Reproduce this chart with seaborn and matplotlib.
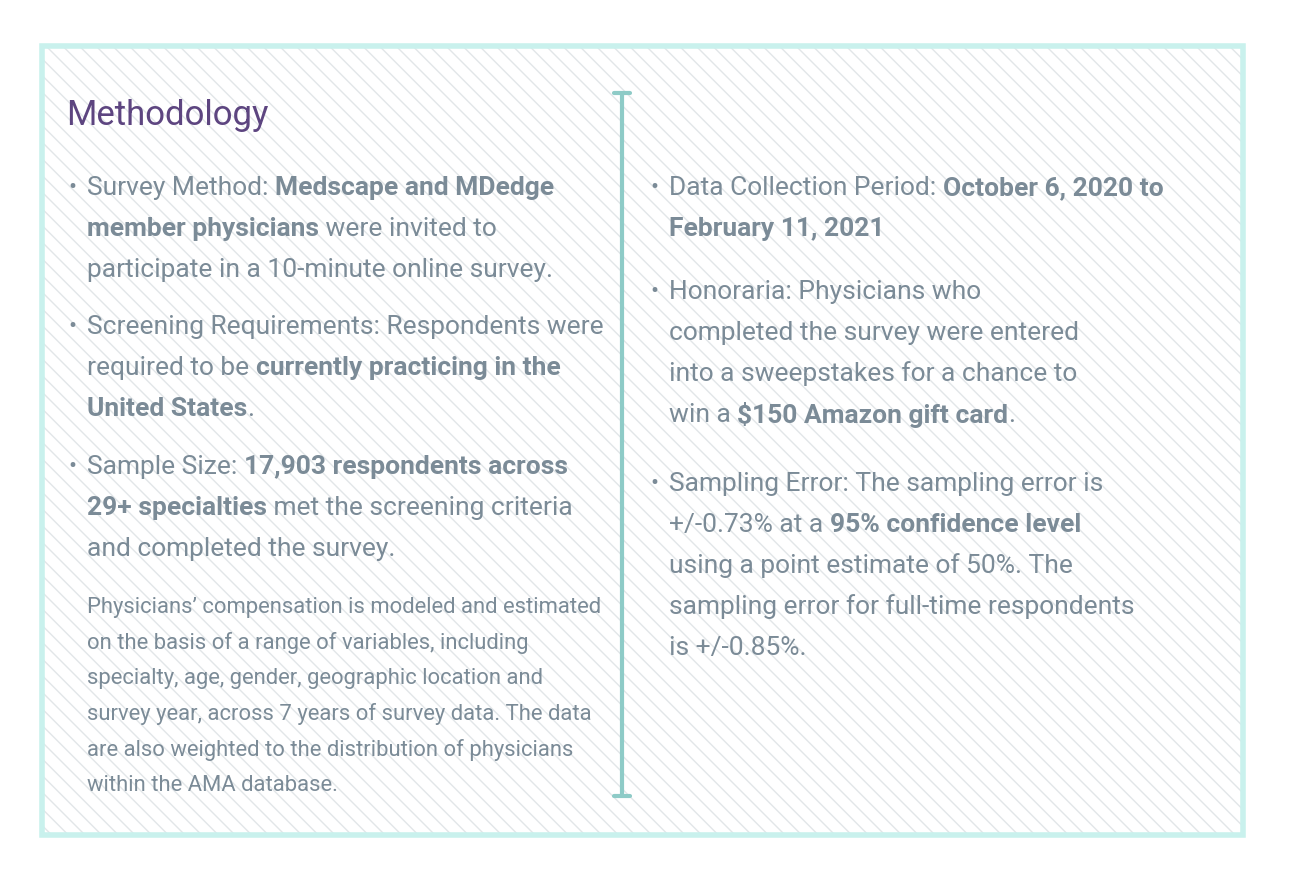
import matplotlib
matplotlib.use("Agg")
import matplotlib.pyplot as plt
import seaborn as sns
from matplotlib.patches import Rectangle
from matplotlib.lines import Line2D

sns.set_theme(style="white")
plt.rcParams['font.family'] = ['Roboto', 'DejaVu Sans']
plt.rcParams['hatch.linewidth'] = 1.0
plt.rcParams['hatch.color'] = '#e2e6e8'

title = "Methodology"
left_bullets = [
    [[("Survey Method: ", False), ("Medscape and MDedge", True)],
     [("member physicians", True), (" were invited to", False)],
     [("participate in a 10-minute online survey.", False)]],
    [[("Screening Requirements: Respondents were", False)],
     [("required to be ", False), ("currently practicing in the", True)],
     [("United States", True), (".", False)]],
    [[("Sample Size: ", False), ("17,903 respondents across", True)],
     [("29+ specialties", True), (" met the screening criteria", False)],
     [("and completed the survey.", False)]],
]
left_bullet_y = [188, 327, 467]
note_lines = [
    "Physicians\u2019 compensation is modeled and estimated",
    "on the basis of a range of variables, including",
    "specialty, age, gender, geographic location and",
    "survey year, across 7 years of survey data. The data",
    "are also weighted to the distribution of physicians",
    "within the AMA database.",
]
right_bullets = [
    [[("Data Collection Period: ", False), ("October 6, 2020 to", True)],
     [("February 11, 2021", True)]],
    [[("Honoraria: Physicians who", False)],
     [("completed the survey were entered", False)],
     [("into a sweepstakes for a chance to", False)],
     [("win a ", False), ("$150 Amazon gift card", True), (".", False)]],
    [[("Sampling Error: The sampling error is", False)],
     [("+/-0.73% at a ", False), ("95% confidence level", True)],
     [("using a point estimate of 50%. The", False)],
     [("sampling error for full-time respondents", False)],
     [("is +/-0.85%.", False)]],
]
right_bullet_y = [188, 292, 484]

W, H = 1290, 878
fig = plt.figure(figsize=(W/100, H/100), dpi=100)
fig.patch.set_facecolor('white')
ax = fig.add_axes([0, 0, 1, 1])
ax.set_xlim(0, W); ax.set_ylim(H, 0); ax.axis('off')

ax.add_patch(Rectangle((42, 47), 1201, 789, facecolor='white', edgecolor='#e2e6e8',
                       hatch='\\\\', lw=0))
ax.add_patch(Rectangle((42, 47), 1201, 789, facecolor='none', edgecolor='#c9f1ed', lw=4))
ax.add_line(Line2D([622, 622], [94, 797], color='#8ecbc7', lw=3))
ax.add_line(Line2D([614, 630], [94, 94], color='#8ecbc7', lw=3))
ax.add_line(Line2D([614, 630], [797, 797], color='#8ecbc7', lw=3))

TXT = '#7b8b97'
ax.text(66, 116, title, color='#5d4580', fontsize=25, va='center', ha='left')
fig.canvas.draw()
r = fig.canvas.get_renderer()

def rich(x, y, segs, size=19):
    for s, b in segs:
        t = ax.text(x, y, s, color=TXT, fontsize=size, va='center', ha='left',
                    fontweight='bold' if b else 'normal')
        bb = t.get_window_extent(renderer=r)
        x += bb.width

def block(x, bullets, ys):
    for lines, y in zip(bullets, ys):
        ax.text(x - 19, y, "\u2022", color=TXT, fontsize=17, va='center', ha='left')
        for i, segs in enumerate(lines):
            rich(x, y + i * 41, segs)

block(87, left_bullets, left_bullet_y)
block(669, right_bullets, right_bullet_y)
for i, l in enumerate(note_lines):
    ax.text(87, 608 + i * 35.5, l, color=TXT, fontsize=15.8, va='center', ha='left')

fig.savefig('out.png', dpi=100, facecolor='white')
